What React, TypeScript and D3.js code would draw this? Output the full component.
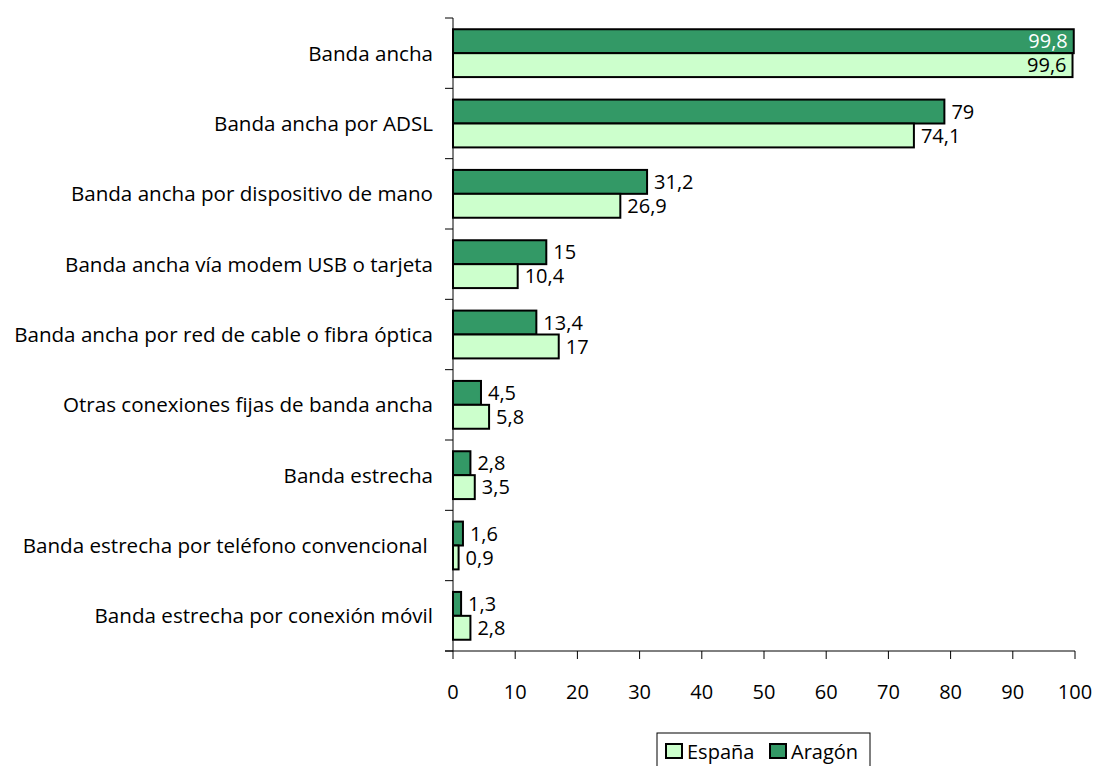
import React from "react";
import * as d3 from "d3";

const categories = [
  "Banda ancha",
  "Banda ancha por ADSL",
  "Banda ancha por dispositivo de mano",
  "Banda ancha vía modem USB o tarjeta",
  "Banda ancha por red de cable o fibra óptica",
  "Otras conexiones fijas de banda ancha",
  "Banda estrecha",
  "Banda estrecha por teléfono convencional ",
  "Banda estrecha por conexión móvil",
];
const aragon = [99.8, 79, 31.2, 15, 13.4, 4.5, 2.8, 1.6, 1.3];
const espana = [99.6, 74.1, 26.9, 10.4, 17, 5.8, 3.5, 0.9, 2.8];
const xTicks = [0, 10, 20, 30, 40, 50, 60, 70, 80, 90, 100];

const DARK = "#339966";
const LIGHT = "#CCFFCC";
const FONT = "'Open Sans', sans-serif";
const FS = 20;
const FS_CAT = 20.6;

const fmt = (v: number) => String(v).replace(".", ",");

export default function App() {
  const W = 1097, H = 766;
  const left = 453, right = 1075, top = 18, bottom = 651;
  const x = d3.scaleLinear().domain([0, 100]).range([left, right]);
  const y = d3.scaleBand<number>().domain(d3.range(categories.length)).range([top, bottom]);
  const bw = y.bandwidth();
  const barH = bw * 0.34;
  return (
    <svg width={W} height={H} style={{ position: "absolute", left: 0, top: 0 }} fontFamily={FONT}>
      <rect width={W} height={H} fill="#fff" />
      {categories.map((c, i) => {
        const y0 = y(i)! + (bw - 2 * barH) / 2;
        return (
          <g key={c}>
            <rect x={x(0)} y={y0} width={x(aragon[i]) - x(0)} height={barH} fill={DARK} stroke="#000" strokeWidth={2} />
            <rect x={x(0)} y={y0 + barH} width={x(espana[i]) - x(0)} height={barH} fill={LIGHT} stroke="#000" strokeWidth={2} />
            {aragon[i] > 95 ? (
              <text x={x(aragon[i]) - 6} y={y0 + barH / 2} dy="0.36em" textAnchor="end" fontSize={FS} fill="#fff">{fmt(aragon[i])}</text>
            ) : (
              <text x={x(aragon[i]) + 7} y={y0 + barH / 2} dy="0.36em" fontSize={FS} fill="#000">{fmt(aragon[i])}</text>
            )}
            {espana[i] > 95 ? (
              <text x={x(espana[i]) - 6} y={y0 + barH * 1.5} dy="0.36em" textAnchor="end" fontSize={FS} fill="#000">{fmt(espana[i])}</text>
            ) : (
              <text x={x(espana[i]) + 7} y={y0 + barH * 1.5} dy="0.36em" fontSize={FS} fill="#000">{fmt(espana[i])}</text>
            )}
            <text x={433} y={y(i)! + bw / 2} dy="0.36em" textAnchor="end" fontSize={FS_CAT} fill="#000" style={{ whiteSpace: "pre" }}>{c}</text>
          </g>
        );
      })}
      {/* y axis */}
      <line x1={left} x2={left} y1={top} y2={bottom} stroke="#000" strokeWidth={1} />
      {d3.range(categories.length + 1).map((i) => {
        const yy = top + i * bw;
        return <line key={i} x1={left - 8} x2={left} y1={yy} y2={yy} stroke="#000" />;
      })}
      {/* x axis */}
      <line x1={left - 8} x2={right} y1={bottom} y2={bottom} stroke="#000" />
      {xTicks.map((t) => (
        <g key={t}>
          <line x1={x(t)} x2={x(t)} y1={bottom} y2={bottom + 8} stroke="#000" />
          <text x={x(t)} y={692} dy="0.36em" textAnchor="middle" fontSize={FS}>{t}</text>
        </g>
      ))}
      {/* legend */}
      <rect x={657} y={733} width={213} height={40} fill="#fff" stroke="#000" />
      <rect x={666} y={744} width={16} height={14} fill={LIGHT} stroke="#000" strokeWidth={2} />
      <text x={687} y={752} dy="0.36em" fontSize={FS}>España</text>
      <rect x={770} y={744} width={16} height={14} fill={DARK} stroke="#000" strokeWidth={2} />
      <text x={791} y={752} dy="0.36em" fontSize={FS}>Aragón</text>
    </svg>
  );
}
